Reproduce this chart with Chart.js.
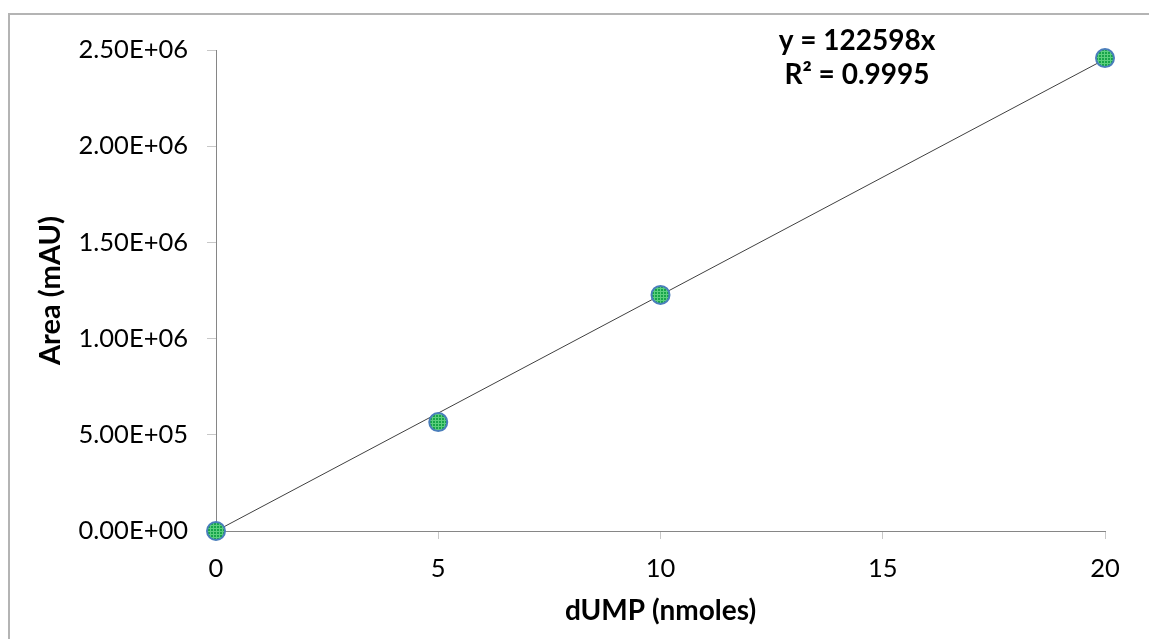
<!DOCTYPE html>
<html>
<head>
<meta charset="utf-8">
<script src="https://cdn.jsdelivr.net/npm/chart.js@4"></script>
<style>
    html, body { margin: 0; padding: 0; background: #fff; }
    #wrap { position: relative; width: 1149px; height: 639px; overflow: hidden; }
    #frame { position: absolute; left: 8px; top: 13px; width: 1200px; height: 700px;
             border-left: 2px solid #b4b4b4; border-top: 2px solid #b4b4b4; }
    canvas { position: absolute; left: 0; top: 0; }
</style>
</head>
<body>
<div id="wrap">
    <div id="frame"></div>
    <canvas id="c" width="1149" height="639"></canvas>
</div>
<script>
// Dữ liệu
const xValues = [0, 5, 10, 20];
const areaValues = [0, 566000, 1227000, 2458000];
const slope = 122598;
const trendX = [0, 20];
const eqLabel = 'y = 122598x';
const r2Label = 'R² = 0.9995';
const xTitle = 'dUMP (nmoles)';
const yTitle = 'Area (mAU)';

const FONT = 'Lato, "Open Sans", sans-serif';

// Tick dạng Excel: 2.50E+06
function sci(v) {
    if (v === 0) return '0.00E+00';
    const e = Math.floor(Math.log10(Math.abs(v)));
    const m = v / Math.pow(10, e);
    const sign = e < 0 ? '-' : '+';
    return m.toFixed(2) + 'E' + sign + String(Math.abs(e)).padStart(2, '0');
}

// Nền lưới xanh cho marker (giống kiểu Excel)
function makePattern() {
    const pc = document.createElement('canvas');
    pc.width = 3; pc.height = 3;
    const p = pc.getContext('2d');
    p.fillStyle = '#17a44a';
    p.fillRect(0, 0, 3, 3);
    p.fillStyle = '#5ccf7e';
    p.fillRect(0, 0, 3, 1);
    p.fillRect(0, 0, 1, 3);
    return document.getElementById('c').getContext('2d').createPattern(pc, 'repeat');
}

// Plugin vẽ phương trình hồi quy
const eqPlugin = {
    id: 'eqText',
    afterDraw(chart) {
        const { ctx, chartArea } = chart;
        const cx = chartArea.left + (chartArea.right - chartArea.left) * 0.721;
        ctx.save();
        ctx.fillStyle = '#000';
        ctx.font = 'bold 28px ' + FONT;
        ctx.textAlign = 'center';
        ctx.textBaseline = 'middle';
        ctx.fillText(eqLabel, cx, 41);
        ctx.fillText(r2Label, cx, 75);
        ctx.restore();
    }
};

const points = xValues.map((x, i) => ({ x: x, y: areaValues[i] }));
const trend = trendX.map(x => ({ x: x, y: slope * x }));

new Chart(document.getElementById('c'), {
    type: 'scatter',
    data: {
        datasets: [
            {
                data: trend,
                showLine: true,
                borderColor: '#404040',
                borderWidth: 1,
                pointRadius: 0,
                fill: false,
                clip: false,
                order: 1
            },
            {
                data: points,
                backgroundColor: makePattern(),
                borderColor: '#4a7ebb',
                borderWidth: 2,
                pointRadius: 9,
                clip: false,
                order: 0
            }
        ]
    },
    options: {
        responsive: false,
        animation: false,
        events: [],
        layout: { padding: { left: 10, top: 50, right: 44, bottom: 0 } },
        plugins: { legend: { display: false }, tooltip: { enabled: false } },
        scales: {
            x: {
                type: 'linear',
                min: 0, max: 20,
                afterFit: (s) => { s.height = 108; },
                ticks: { stepSize: 5, color: '#000', font: { family: FONT, size: 25.5 }, padding: 14 },
                grid: { drawOnChartArea: false, drawTicks: true, tickLength: 8, color: '#c8c8c8' },
                border: { color: '#868686', width: 1 },
                title: { display: true, text: xTitle, color: '#000', font: { family: FONT, size: 28, weight: 'bold' }, padding: { top: 0, bottom: 11 } }
            },
            y: {
                min: 0, max: 2500000,
                afterFit: (s) => { s.width = 206; },
                ticks: { stepSize: 500000, color: '#000', font: { family: FONT, size: 25.5 }, padding: 19, callback: (v) => sci(v) },
                grid: { drawOnChartArea: false, drawTicks: true, tickLength: 9, color: '#c8c8c8' },
                border: { color: '#868686', width: 1 },
                title: { display: true, text: yTitle, color: '#000', font: { family: FONT, size: 29, weight: 'bold' }, padding: { top: 23, bottom: 0 } }
            }
        }
    },
    plugins: [eqPlugin]
});
</script>
</body>
</html>
